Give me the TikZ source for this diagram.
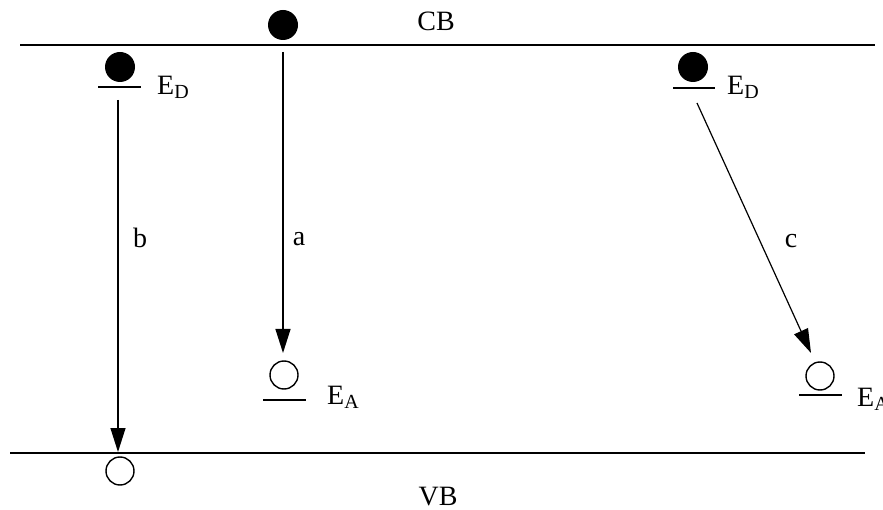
\documentclass[tikz,border=0pt]{standalone}
\usepackage{fontspec}
\setmainfont{Liberation Serif}
\usetikzlibrary{arrows.meta}
\newcommand{\sublbl}[2]{#1{\fontsize{20}{21}\selectfont\raisebox{-4pt}{#2}}}
\tikzset{
  band/.style={line width=1.8pt},
  level/.style={line width=1.5pt},
  trans/.style={line width=1.2pt, -{Triangle[length=24pt,width=15pt]}},
  electron/.style={circle, fill=black, minimum size=30pt, inner sep=0pt},
  hole/.style={circle, draw=black, line width=1.4pt, minimum size=28pt, inner sep=0pt},
  lbl/.style={font=\fontsize{28}{31}\selectfont, inner sep=0pt},
}
\begin{document}
\begin{tikzpicture}[x=1pt,y=-1pt]
\useasboundingbox (0,0) rectangle (883,510);
% bands
\coordinate (cbL) at (20,45); \coordinate (cbR) at (875,45);
\coordinate (vbL) at (10,453); \coordinate (vbR) at (865,453);
\draw[band] (cbL) -- (cbR);
\draw[band] (vbL) -- (vbR);
\node[lbl, anchor=base] (cb) at (436,31) {CB};
\node[lbl, anchor=base] (vb) at (438,505) {VB};
% top electron (a)
\node[electron] (e1) at (283,25) {};
% left donor
\node[electron] (e2) at (120,67) {};
\coordinate (d1L) at (98,87); \coordinate (d1R) at (141,87);
\draw[level] (d1L) -- (d1R);
\node[lbl, anchor=base west] (ed1) at (157,95) {\sublbl{E}{D}};
% right donor
\node[electron] (e3) at (693,67) {};
\coordinate (d2L) at (673,88); \coordinate (d2R) at (715,88);
\draw[level] (d2L) -- (d2R);
\node[lbl, anchor=base west] (ed2) at (727,95) {\sublbl{E}{D}};
% left acceptor
\node[hole] (h1) at (284,375) {};
\coordinate (a1L) at (263,400); \coordinate (a1R) at (306,400);
\draw[level] (a1L) -- (a1R);
\node[lbl, anchor=base west] (ea1) at (327,404) {\sublbl{E}{A}};
% right acceptor
\node[hole] (h2) at (820,376) {};
\coordinate (a2L) at (799,395); \coordinate (a2R) at (842,395);
\draw[level] (a2L) -- (a2R);
\node[lbl, anchor=base west] (ea2) at (857,406) {\sublbl{E}{A}};
% VB hole
\node[hole] (h3) at (120,471) {};
% transitions
\coordinate (aS) at (283,52); \coordinate (aE) at (283,353);
\draw[trans] (aS) -- (aE);
\node[lbl, anchor=base] (la) at (299,246) {a};
\coordinate (bS) at (118,100); \coordinate (bE) at (118,452);
\draw[trans] (bS) -- (bE);
\node[lbl, anchor=base] (lb) at (140,248) {b};
\coordinate (cS) at (697,103); \coordinate (cE) at (811,353);
\draw[trans] (cS) -- (cE);
\node[lbl, anchor=base] (lc) at (791,248) {c};
\end{tikzpicture}
\end{document}
